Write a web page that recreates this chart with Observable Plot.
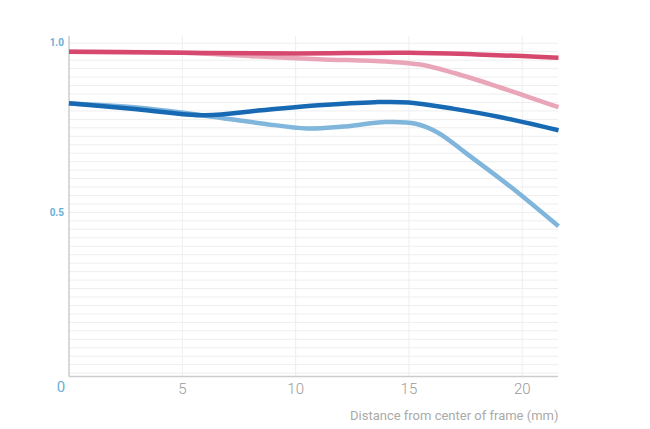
<!DOCTYPE html>
<html>
<head>
<meta charset="utf-8">
<script src="https://cdn.jsdelivr.net/npm/d3@7"></script>
<script src="https://cdn.jsdelivr.net/npm/@observablehq/plot@0.6"></script>
<style>
  html, body { margin: 0; padding: 0; background: #fff; }
  #chart svg { display: block; }
</style>
</head>
<body>
<div id="chart"></div>
<script>
// Data
const redX  = [0, 5, 10, 15, 18, 20, 21.6];
const redY  = [0.975, 0.972, 0.970, 0.972, 0.967, 0.962, 0.957];

const pinkX = [0, 5, 8, 11, 14, 15.5, 17, 19, 21.6];
const pinkY = [0.975, 0.972, 0.962, 0.953, 0.946, 0.937, 0.912, 0.870, 0.811];

const blueX = [0, 3, 6, 8.5, 11, 13.5, 15, 17, 19, 21.6];
const blueY = [0.823, 0.805, 0.787, 0.802, 0.817, 0.826, 0.825, 0.806, 0.782, 0.743];

const lightBlueX = [0, 3, 6, 8.5, 10.5, 12, 14, 15.3, 16.3, 17.5, 19.5, 21.6];
const lightBlueY = [0.822, 0.810, 0.786, 0.763, 0.748, 0.753, 0.767, 0.762, 0.735, 0.676, 0.575, 0.459];

const xTicks = [5, 10, 15, 20];
const yTicks = [0.5, 1.0];
const yGrid = d3.range(1, 41).map(i => i * 0.025);
const originLabel = ["0"];
const xLabel = ["Distance from center of frame (mm)"];

const series = [
  {name: "pink", X: pinkX, Y: pinkY, color: "#e9a6b9"},
  {name: "lightBlue", X: lightBlueX, Y: lightBlueY, color: "#80b5dc"},
  {name: "red", X: redX, Y: redY, color: "#d6486d"},
  {name: "blue", X: blueX, Y: blueY, color: "#1769b3"}
];
const rows = series.flatMap(s => s.X.map((x, i) => ({series: s.name, x, y: s.Y[i], color: s.color})));

const chart = Plot.plot({
  width: 650,
  height: 429,
  marginLeft: 68.5,
  marginRight: 92,
  marginTop: 36,
  marginBottom: 53,
  style: {fontFamily: "Roboto, sans-serif", background: "#fff"},
  x: {domain: [0, 21.6]},
  y: {domain: [0.015, 1.02]},
  marks: [
    Plot.ruleY(yGrid, {stroke: "#eeeeee", strokeWidth: 1}),
    Plot.ruleX(xTicks, {stroke: "#eeeeee", strokeWidth: 1}),
    Plot.ruleX([0], {stroke: "#cccccc", strokeWidth: 1.5}),
    Plot.ruleY([0.015], {stroke: "#cccccc", strokeWidth: 1.5}),
    Plot.line(rows, {x: "x", y: "y", z: "series", stroke: "color", strokeWidth: 4.5, curve: "catmull-rom", strokeLinecap: "butt"}),
    Plot.axisY({ticks: yTicks, tickFormat: d3.format(".1f"), tickSize: 0, tickPadding: 5, fontSize: 10, fontWeight: "bold", color: "#6aaed6", label: null}),
    Plot.axisX({ticks: xTicks, tickSize: 0, tickPadding: 7, fontSize: 15, fontWeight: 300, color: "#9a9a9a", label: null}),
    Plot.text(originLabel, {x: 0, y: 0.015, text: d => d, dx: -8, dy: 11, fontSize: 15, fill: "#6aaed6", textAnchor: "middle"}),
    Plot.text(xLabel, {frameAnchor: "bottom-right", text: d => d, dy: 43, fontSize: 13, fill: "#aaaaaa", textAnchor: "end", style: {letterSpacing: "-0.2px"}})
  ]
});
document.getElementById("chart").appendChild(chart);
</script>
</body>
</html>
